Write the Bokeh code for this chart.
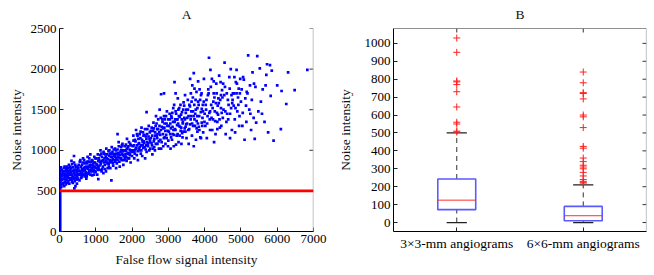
import math
from bokeh.plotting import figure
from bokeh.layouts import row
from bokeh.models import FixedTicker, Range1d, Span
from bokeh.embed import file_html
from bokeh.resources import INLINE

FONT = "Liberation Serif"

# ---------------- Panel A data ----------------
a_pts = [
    (30,620),(45,700),(60,760),(80,680),(95,590),(110,740),(120,650),(140,800),(150,710),(170,630),
    (185,770),(200,690),(215,600),(230,745),(250,660),(260,820),(280,720),(300,640),(310,780),(330,700),
    (345,610),(360,750),(380,670),(400,850),(410,730),(430,690),(450,790),(470,640),(480,760),(500,710),
    (60,580),(130,560),(220,720),(270,590),(350,830),(420,620),(460,700),(40,790),(90,730),(160,670),
    (240,780),(320,660),(390,720),(440,560),(20,680),(75,640),(190,700),(290,760),(370,600),(490,680),
    (400,930),(330,870),(480,590),(50,550),(250,740),(150,610),(410,530),(100,700),(200,760),(300,700),
    (520,780),(540,700),(560,860),(580,740),(600,660),(620,820),(640,760),(660,700),(680,880),(700,790),
    (720,730),(740,650),(760,840),(780,770),(800,710),(820,900),(840,800),(860,740),(880,860),(900,690),
    (920,810),(940,760),(960,920),(980,850),(1000,780),(550,630),(650,900),(750,680),(850,950),(950,700),
    (590,800),(690,840),(790,720),(890,780),(990,900),(610,720),(710,680),(810,860),(910,870),(970,740),
    (530,820),(630,680),(730,800),(830,760),(930,830),(570,700),(670,780),(770,860),(870,820),(1070,645),
    (1020,830),(1050,760),(1080,900),(1100,810),(1120,940),(1150,850),(1180,770),(1200,880),(1230,960),(1250,820),
    (1280,740),(1300,900),(1320,840),(1350,990),(1380,860),(1400,780),(1420,920),(1450,870),(1480,810),(1500,950),
    (1040,700),(1130,1000),(1210,720),(1290,1020),(1360,800),(1440,1040),(1070,870),(1170,920),(1270,870),(1370,930),
    (1470,890),(1060,790),(1160,740),(1260,950),(1330,780),(1460,980),(1430,630),(1110,860),(1240,900),(1390,960),
    (1520,880),(1550,960),(1580,840),(1600,1010),(1620,920),(1650,860),(1680,980),(1700,900),(1720,1060),(1750,940),
    (1780,880),(1800,1000),(1820,950),(1850,870),(1880,1040),(1900,970),(1920,900),(1950,1080),(1980,1000),(2000,930),
    (1560,780),(1660,800),(1760,820),(1860,1140),(1960,850),(1530,1020),(1630,1100),(1730,960),(1830,1070),(1930,1010),
    (1540,920),(1640,950),(1740,1000),(1840,920),(1940,960),(1600,1200),(1700,1040),(1800,900),(1900,1050),(1570,900),
    (2020,1050),(2050,980),(2080,1130),(2100,1020),(2130,940),(2150,1180),(2180,1080),(2200,1000),(2230,1150),(2250,1060),
    (2280,930),(2300,1220),(2320,1110),(2350,1040),(2380,1170),(2400,980),(2420,1260),(2450,1090),(2480,1140),(2500,1020),
    (2060,900),(2160,880),(2260,1280),(2360,900),(2460,1300),(2110,1250),(2210,1200),(2310,1030),(2410,1100),(2040,1120),
    (2140,1060),(2240,960),(2340,1190),(2440,1050),(2400,1470),(2490,1220),(2190,1020),(2290,1100),(2390,1060),(2070,1000),
    (2520,1150),(2550,1060),(2580,1240),(2600,1110),(2630,1000),(2650,1300),(2680,1180),(2700,1080),(2720,1380),(2750,1220),
    (2780,1130),(2800,1020),(2820,1290),(2850,1200),(2880,1420),(2900,1160),(2920,1080),(2950,1330),(2980,1240),(3000,1120),
    (2560,950),(2660,1420),(2760,1500),(2860,1050),(2960,1480),(2540,1280),(2640,1180),(2740,1020),(2840,1350),(2940,1190),
    (2800,1690),(2880,1700),(2590,1340),(2690,1260),(2790,1400),(2890,1280),(2990,1050),(2610,1040),(2700,1200),(2900,1380),
    (3020,1300),(3050,1200),(3080,1420),(3100,1130),(3130,1350),(3150,1050),(3170,1840),(3180,1260),(3200,1480),(3230,1180),
    (3250,1380),(3280,1100),(3300,1520),(3320,1290),(3350,1440),(3380,1210),(3400,1350),(3420,1590),(3450,1270),(3480,1460),
    (3500,1150),(3060,1020),(3160,1560),(3260,1640),(3360,1080),(3460,1680),(3040,1380),(3140,1250),(3240,1310),(3340,1240),
    (3440,1400),(3110,1460),(3210,1070),(3310,1180),(3410,1500),(3490,1320),(3070,1270),(3190,1380),(3290,1420),(3390,1160),
    (3200,1700),(3120,1200),(3270,1330),(3370,1380),(3470,1230),
    (3520,1400),(3550,1250),(3580,1560),(3600,1320),(3620,1700),(3650,1180),(3680,1480),(3700,1950),(3720,1380),(3750,1620),
    (3780,1270),(3800,1520),(3820,1850),(3850,1420),(3880,1160),(3900,1680),(3920,1340),(3950,1560),(3980,1880),(4000,1450),
    (3560,1080),(3660,1800),(3760,1130),(3860,1750),(3960,1220),(3540,1500),(3640,1600),(3740,1450),(3840,1290),(3940,1400),
    (3600,1880),(3700,1050),(3800,1230),(3900,1150),(3620,1420),(3720,1760),(3820,1600),(3920,1510),(3680,1300),(3780,1360),
    (4020,1300),(4050,1620),(4080,1420),(4100,1750),(4120,2140),(4150,1250),(4180,1560),(4200,1880),(4230,1380),(4250,1700),
    (4280,1480),(4300,1200),(4320,1820),(4350,1350),(4380,1640),(4400,1920),(4420,1280),(4450,1520),(4480,1740),(4500,1400),
    (4060,1150),(4160,1990),(4260,1100),(4360,1550),(4460,1300),(4550,2080),(4040,1500),(4140,1380),(4240,1600),(4340,1460),
    (4440,1840),(4110,1700),(4210,1250),(4310,1580),(4410,1380),(4490,1650),
    (4520,1500),(4560,1780),(4600,1350),(4640,1620),(4680,1900),(4700,1450),(4720,2000),(4750,1250),(4780,1700),(4800,1550),
    (4830,1380),(4860,1840),(4880,1990),(4900,1480),(4920,1650),(4950,1300),(4980,1880),(5000,1600),(4580,1200),(4660,1560),
    (4740,1680),(4840,1220),(4940,1760),(4620,1450),(4820,1900),(4960,1420),(4700,1150),(4880,1700),(4540,1680),(4760,1580),
    (5020,1750),(5050,1460),(5080,1870),(5100,1130),(5120,1640),(5150,1350),(5180,1700),(5200,2170),(5230,1500),(5250,1800),
    (5280,1250),(5300,1620),(5320,1960),(5350,1400),(5380,1140),(5400,1780),(5450,2160),(5480,1480),(5420,1340),(5060,1900),
    (5160,1720),(5260,1450),(5360,1820),(5040,1300),(5140,1550),
    (5520,2010),(5550,1600),(5600,1750),(5650,1350),(5700,1930),(5720,2060),(5750,1220),(5800,2050),(5820,1670),(5850,1980),
    (5900,1120),(6000,1800),(6120,1730),(6100,1260),(6250,1570),(6300,1960),(6480,1740),(6830,1990),(5580,1450),(5680,1800),
    # second pass over the dense band
    (35,760),(55,640),(85,710),(105,600),(125,780),(145,690),(165,740),(175,580),(195,650),(210,800),
    (225,680),(245,620),(265,700),(285,650),(295,800),(315,730),(335,640),(355,690),(375,790),(395,650),
    (415,760),(435,820),(455,660),(475,730),(495,800),(515,650),(535,750),(555,710),(575,880),(595,690),
    (615,770),(635,850),(655,740),(675,700),(695,760),(715,850),(735,710),(755,780),(775,920),(795,800),
    (815,740),(835,820),(855,700),(875,760),(895,880),(915,740),(935,790),(955,850),(975,800),(995,730),
    (1015,900),(1035,820),(1055,950),(1075,780),(1095,880),(1115,760),(1135,830),(1155,960),(1175,870),(1195,800),
    (1215,980),(1235,850),(1255,770),(1275,920),(1295,860),(1315,950),(1335,890),(1355,830),(1375,1000),(1395,880),
    (1415,850),(1435,960),(1455,920),(1475,840),(1495,1010),(1515,930),(1535,860),(1555,1000),(1575,950),(1595,880),
    (1615,970),(1635,1050),(1655,900),(1675,940),(1695,1000),(1715,880),(1735,1080),(1755,990),(1775,930),(1795,1050),
    (1815,890),(1835,990),(1855,1020),(1875,960),(1895,900),(1915,1100),(1935,940),(1955,1000),(1975,1060),(1995,980),
    (2015,1000),(2035,1180),(2055,1060),(2075,960),(2095,1110),(2115,1030),(2135,1200),(2155,990),(2175,1140),(2195,1090),
    (2215,1040),(2235,1230),(2255,1000),(2275,1130),(2295,1060),(2315,1180),(2335,1090),(2355,1260),(2375,1010),(2395,1140),
    (2415,1200),(2435,1080),(2455,1170),(2475,1000),(2495,1110),(2515,1240),(2535,1090),(2555,1180),(2575,1020),(2595,1270),
    (2615,1140),(2635,1220),(2655,1080),(2675,1330),(2695,1150),(2715,1260),(2735,1110),(2755,1300),(2775,1190),(2795,1250),
    (2815,1100),(2835,1380),(2855,1270),(2875,1150),(2895,1330),(2915,1240),(2935,1420),(2955,1150),(2975,1300),(2995,1380),
    (3015,1230),(3035,1450),(3055,1330),(3075,1160),(3095,1400),(3115,1290),(3135,1520),(3155,1190),(3175,1350),(3195,1250),
    (3215,1450),(3235,1380),(3255,1200),(3275,1500),(3295,1300),(3315,1410),(3335,1560),(3355,1280),(3375,1470),(3395,1330),
    (3415,1230),(3435,1550),(3455,1380),(3475,1290),(3495,1500),(3515,1330),(3535,1620),(3555,1420),(3575,1260),(3595,1540),
    (3615,1380),(3635,1480),(3655,1330),(3675,1650),(3695,1420),(3715,1560),(3735,1300),(3755,1500),(3775,1720),(3795,1420),
    (3815,1330),(3835,1560),(3855,1250),(3875,1620),(3895,1470),(3915,1700),(3935,1300),(3955,1480),(3975,1600),(3995,1350),
    (4030,1560),(4070,1330),(4090,1680),(4130,1460),(4170,1780),(4190,1400),(4220,1520),(4270,1650),(4290,1360),(4330,1700),
    (4370,1440),(4390,1580),(4430,1620),(4470,1460),(4510,1820),(4570,1480),(4610,1700),(4650,1380),(4690,1760),(4730,1520),
    (4770,1620),(4810,1700),(4850,1520),(4890,1820),(4930,1560),(4970,1700),(4150,1480),(4250,1850),(4350,1260),(4450,1680),
]
a_x = [p[0] for p in a_pts]
a_y = [p[1] for p in a_pts]

# column of points sitting at zero false-flow signal
zero_col_x = [15]
zero_col_y0 = [0]
zero_col_y1 = [790]
threshold = 500

a_xrange = (0, 7000)
a_yrange = (0, 2500)
a_xticks = [0, 1000, 2000, 3000, 4000, 5000, 6000, 7000]
a_yticks = [0, 500, 1000, 1500, 2000, 2500]

# ---------------- Panel B data ----------------
categories = ["3×3-mm angiograms", "6×6-mm angiograms"]
positions = [1, 2]
q1 = [72, 10]
median = [125, 38]
q3 = [243, 90]
whisk_lo = [0, 0]
whisk_hi = [500, 210]
outliers_3 = [505, 510, 550, 560, 645, 730, 770, 785, 790, 950, 1030]
outliers_6 = [220, 225, 230, 240, 260, 280, 300, 310, 320, 340, 360, 415, 425,
              530, 590, 600, 690, 720, 725, 780, 840]
b_xrange = (0.5, 2.5)
b_yrange = (-50, 1083)
b_yticks = [0, 100, 200, 300, 400, 500, 600, 700, 800, 900, 1000]

BOX_W = 0.3
CAP_W = 0.16

TICK_SIZE = "13px"
LABEL_SIZE = "13.5px"


def style_axis(ax):
    ax.major_label_text_font = FONT
    ax.major_label_text_font_size = TICK_SIZE
    ax.major_label_text_color = "black"
    ax.axis_label_text_font = FONT
    ax.axis_label_text_font_size = LABEL_SIZE
    ax.axis_label_text_font_style = "normal"
    ax.axis_label_text_color = "#111111"
    ax.major_tick_in = 4
    ax.major_tick_out = 0
    ax.minor_tick_line_color = None
    ax.axis_line_color = "black"
    ax.major_tick_line_color = "#222222"


def style_title(p):
    p.title.align = "center"
    p.title.vertical_align = "top"
    p.title.text_font = FONT
    p.title.text_font_size = LABEL_SIZE
    p.title.text_font_style = "normal"
    p.title.text_color = "#111111"
    p.title.standoff = 10


# ---------------- Figure A ----------------
pa = figure(width=330, height=275, x_range=Range1d(*a_xrange), y_range=Range1d(*a_yrange),
            output_backend="svg", toolbar_location=None,
            min_border_left=59, min_border_right=17, min_border_top=28, min_border_bottom=44,
            title="A")
style_title(pa)
pa.outline_line_color = None
pa.grid.visible = False
pa.xaxis.ticker = FixedTicker(ticks=a_xticks)
pa.yaxis.ticker = FixedTicker(ticks=a_yticks)
pa.xaxis.axis_label = "False flow signal intensity"
pa.yaxis.axis_label = "Noise intensity"
style_axis(pa.xaxis[0])
style_axis(pa.yaxis[0])
pa.xaxis.major_label_standoff = 3
pa.xaxis.axis_label_standoff = 6
pa.yaxis.major_label_standoff = 3
pa.yaxis.axis_label_standoff = 4

# right frame edge (grey) with inward mirror ticks
pa.add_layout(Span(location=a_xrange[1], dimension="height", line_color="#b0b0b0", line_width=1.5))
pa.ray(x=[a_xrange[1]] * len(a_yticks), y=a_yticks, length=4, length_units="screen",
       angle=math.pi, line_color="#333333", line_width=1)

pa.segment(x0=zero_col_x, x1=zero_col_x, y0=zero_col_y0, y1=zero_col_y1,
           line_color="#0000ff", line_width=3)
pa.scatter(a_x, a_y, marker="square", size=2.7, fill_color="#0000ff", line_color=None)
pa.add_layout(Span(location=threshold, dimension="width", line_color="#ff0000", line_width=2.8))

# ---------------- Figure B ----------------
pb = figure(width=324, height=275, x_range=Range1d(*b_xrange), y_range=Range1d(*b_yrange),
            output_backend="svg", toolbar_location=None,
            min_border_left=63, min_border_right=8, min_border_top=26, min_border_bottom=44,
            title="B")
style_title(pb)
pb.outline_line_color = None
pb.grid.visible = False
pb.xaxis.ticker = FixedTicker(ticks=positions)
pb.xaxis.major_label_overrides = {pos: cat for pos, cat in zip(positions, categories)}
pb.yaxis.ticker = FixedTicker(ticks=b_yticks)
pb.yaxis.axis_label = "Noise intensity"
style_axis(pb.xaxis[0])
style_axis(pb.yaxis[0])
pb.xaxis.major_label_text_font_size = LABEL_SIZE
pb.xaxis.major_label_standoff = 4
pb.yaxis.major_label_standoff = 3
pb.yaxis.axis_label_standoff = 9

# top (black) and right (grey) frame edges with inward mirror ticks
pb.add_layout(Span(location=b_yrange[1], dimension="width", line_color="#222222", line_width=1.2))
pb.add_layout(Span(location=b_xrange[1], dimension="height", line_color="#9a9a9a", line_width=1.2))
pb.ray(x=[b_xrange[1]] * len(b_yticks), y=b_yticks, length=4, length_units="screen",
       angle=math.pi, line_color="#333333", line_width=1)
pb.ray(x=positions, y=[b_yrange[1]] * len(positions), length=4, length_units="screen",
       angle=-math.pi / 2, line_color="#333333", line_width=1)

left_edges = [p - BOX_W / 2 for p in positions]
right_edges = [p + BOX_W / 2 for p in positions]
cap_l = [p - CAP_W / 2 for p in positions]
cap_r = [p + CAP_W / 2 for p in positions]

pb.segment(x0=positions, x1=positions, y0=q3, y1=whisk_hi, line_color="#333333",
           line_width=1, line_dash="5 4")
pb.segment(x0=positions, x1=positions, y0=whisk_lo, y1=q1, line_color="#333333",
           line_width=1, line_dash="5 4")
pb.segment(x0=cap_l, x1=cap_r, y0=whisk_hi, y1=whisk_hi, line_color="#222222", line_width=1.2)
pb.segment(x0=cap_l, x1=cap_r, y0=whisk_lo, y1=whisk_lo, line_color="#222222", line_width=1.2)
pb.quad(left=left_edges, right=right_edges, bottom=q1, top=q3, fill_color=None,
        line_color="#5a5aff", line_width=1.6)
pb.segment(x0=left_edges, x1=right_edges, y0=median, y1=median, line_color="#ff3030", line_width=1)
pb.scatter([positions[0]] * len(outliers_3), outliers_3, marker="cross", size=7,
           line_color="#ff2020", line_width=1)
pb.scatter([positions[1]] * len(outliers_6), outliers_6, marker="cross", size=7,
           line_color="#ff2020", line_width=1)

layout = row(pa, pb)
open("out.html", "w").write(file_html(layout, INLINE))
